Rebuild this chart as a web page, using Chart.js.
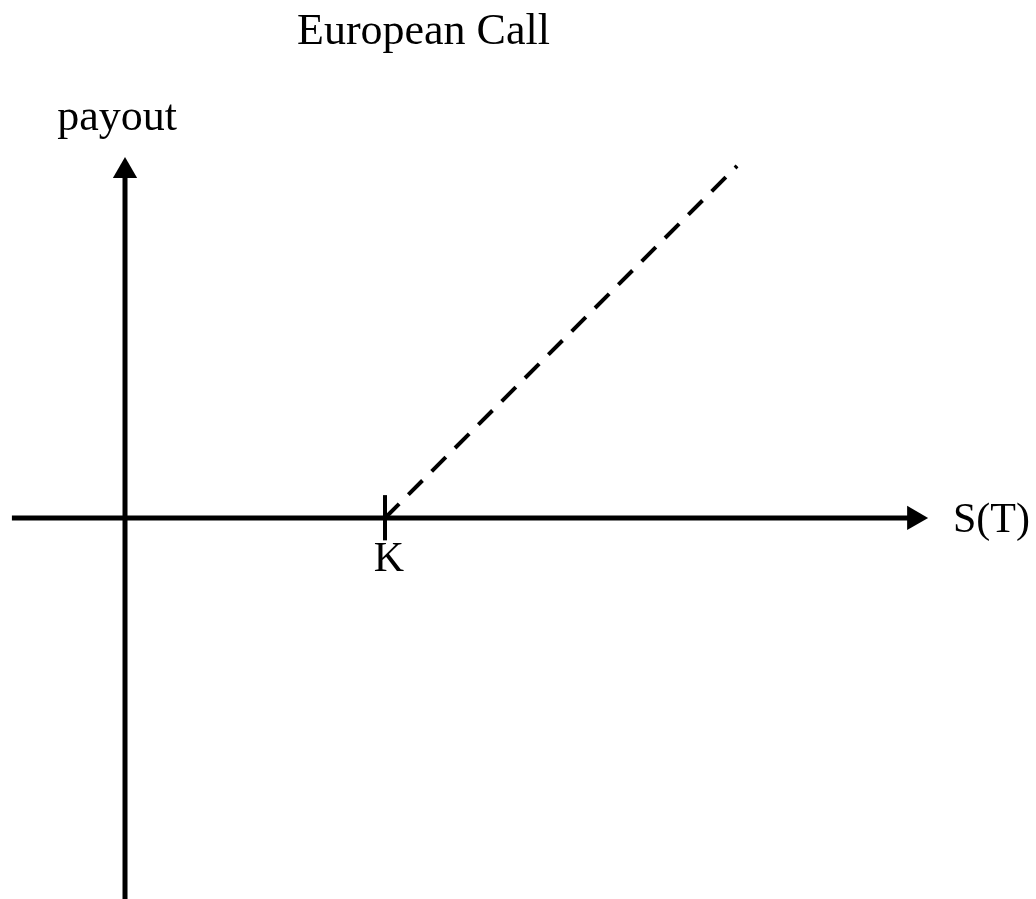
<!DOCTYPE html>
<html>
<head>
<meta charset="utf-8">
<script src="https://cdn.jsdelivr.net/npm/chart.js@4.4.1/dist/chart.umd.min.js"></script>
<style>
  html, body { margin: 0; padding: 0; background: #fff; }
  #wrap { position: relative; width: 1036px; height: 899px; }
</style>
</head>
<body>
<div id="wrap"><canvas id="c"></canvas></div>
<script>
// ---- data (units: strike K = 100) ----
const titleText = "European Call";
const xAxisLabel = "S(T)";
const yAxisLabel = "payout";
const strikeLabel = "K";
const strike = 100;

const xAxisS = [-43.5, 303.5];
const xAxisPayout = [0, 0];

const yAxisS = [0, 0];
const yAxisPayout = [-146.5, 133.5];

const tickS = [strike, strike];
const tickPayout = [-8.6, 8.8];

const payoffS = [strike, 235.4];
const payoffValues = [0, 135.4];

const pts = (xs, ys) => xs.map((x, i) => ({ x: x, y: ys[i] }));

const serif = '"Liberation Serif", "Times New Roman", serif';

const textPlugin = {
  id: 'labels',
  afterDatasetsDraw(chart) {
    const ctx = chart.ctx;
    const xs = chart.scales.x, ys = chart.scales.y;
    ctx.save();
    ctx.fillStyle = '#000';
    ctx.textBaseline = 'alphabetic';
    // title
    ctx.font = '44px ' + serif;
    ctx.textAlign = 'left';
    ctx.fillText(titleText, 297, 44);
    // y-axis label
    ctx.textAlign = 'center';
    ctx.fillText(yAxisLabel, xs.getPixelForValue(0) - 8, 130);
    // x-axis label
    ctx.font = '42px ' + serif;
    ctx.textAlign = 'left';
    ctx.fillText(xAxisLabel, 953, ys.getPixelForValue(0) + 14);
    // strike label
    ctx.textAlign = 'center';
    ctx.fillText(strikeLabel, xs.getPixelForValue(strike) + 4, ys.getPixelForValue(0) + 53);
    ctx.restore();
  }
};

new Chart(document.getElementById('c'), {
  type: 'scatter',
  data: {
    datasets: [
      {
        label: 'S axis',
        data: pts(xAxisS, xAxisPayout),
        showLine: true,
        borderColor: '#000',
        borderWidth: 5,
        pointStyle: 'triangle',
        pointRotation: 90,
        pointRadius: [0, 14],
        pointBackgroundColor: '#000',
        pointBorderWidth: 0,
        pointHoverRadius: 0,
        clip: false
      },
      {
        label: 'payout axis',
        data: pts(yAxisS, yAxisPayout),
        showLine: true,
        borderColor: '#000',
        borderWidth: 5,
        pointStyle: 'triangle',
        pointRotation: 0,
        pointRadius: [0, 14],
        pointBackgroundColor: '#000',
        pointBorderWidth: 0,
        pointHoverRadius: 0,
        clip: false
      },
      {
        label: 'K tick',
        data: pts(tickS, tickPayout),
        showLine: true,
        borderColor: '#000',
        borderWidth: 4,
        pointRadius: 0,
        clip: false
      },
      {
        label: 'payoff',
        data: pts(payoffS, payoffValues),
        showLine: true,
        borderColor: '#000',
        borderWidth: 4,
        borderDash: [20, 13],
        borderCapStyle: 'butt',
        pointRadius: 0,
        clip: false
      }
    ]
  },
  options: {
    responsive: true,
    maintainAspectRatio: false,
    animation: false,
    layout: { padding: 0, autoPadding: false },
    plugins: {
      legend: { display: false },
      title: { display: false },
      tooltip: { enabled: false }
    },
    events: [],
    scales: {
      x: { type: 'linear', display: false, min: -48.08, max: 350.38 },
      y: { type: 'linear', display: false, min: -146.54, max: 199.23 }
    }
  },
  plugins: [textPlugin]
});
</script>
</body>
</html>
